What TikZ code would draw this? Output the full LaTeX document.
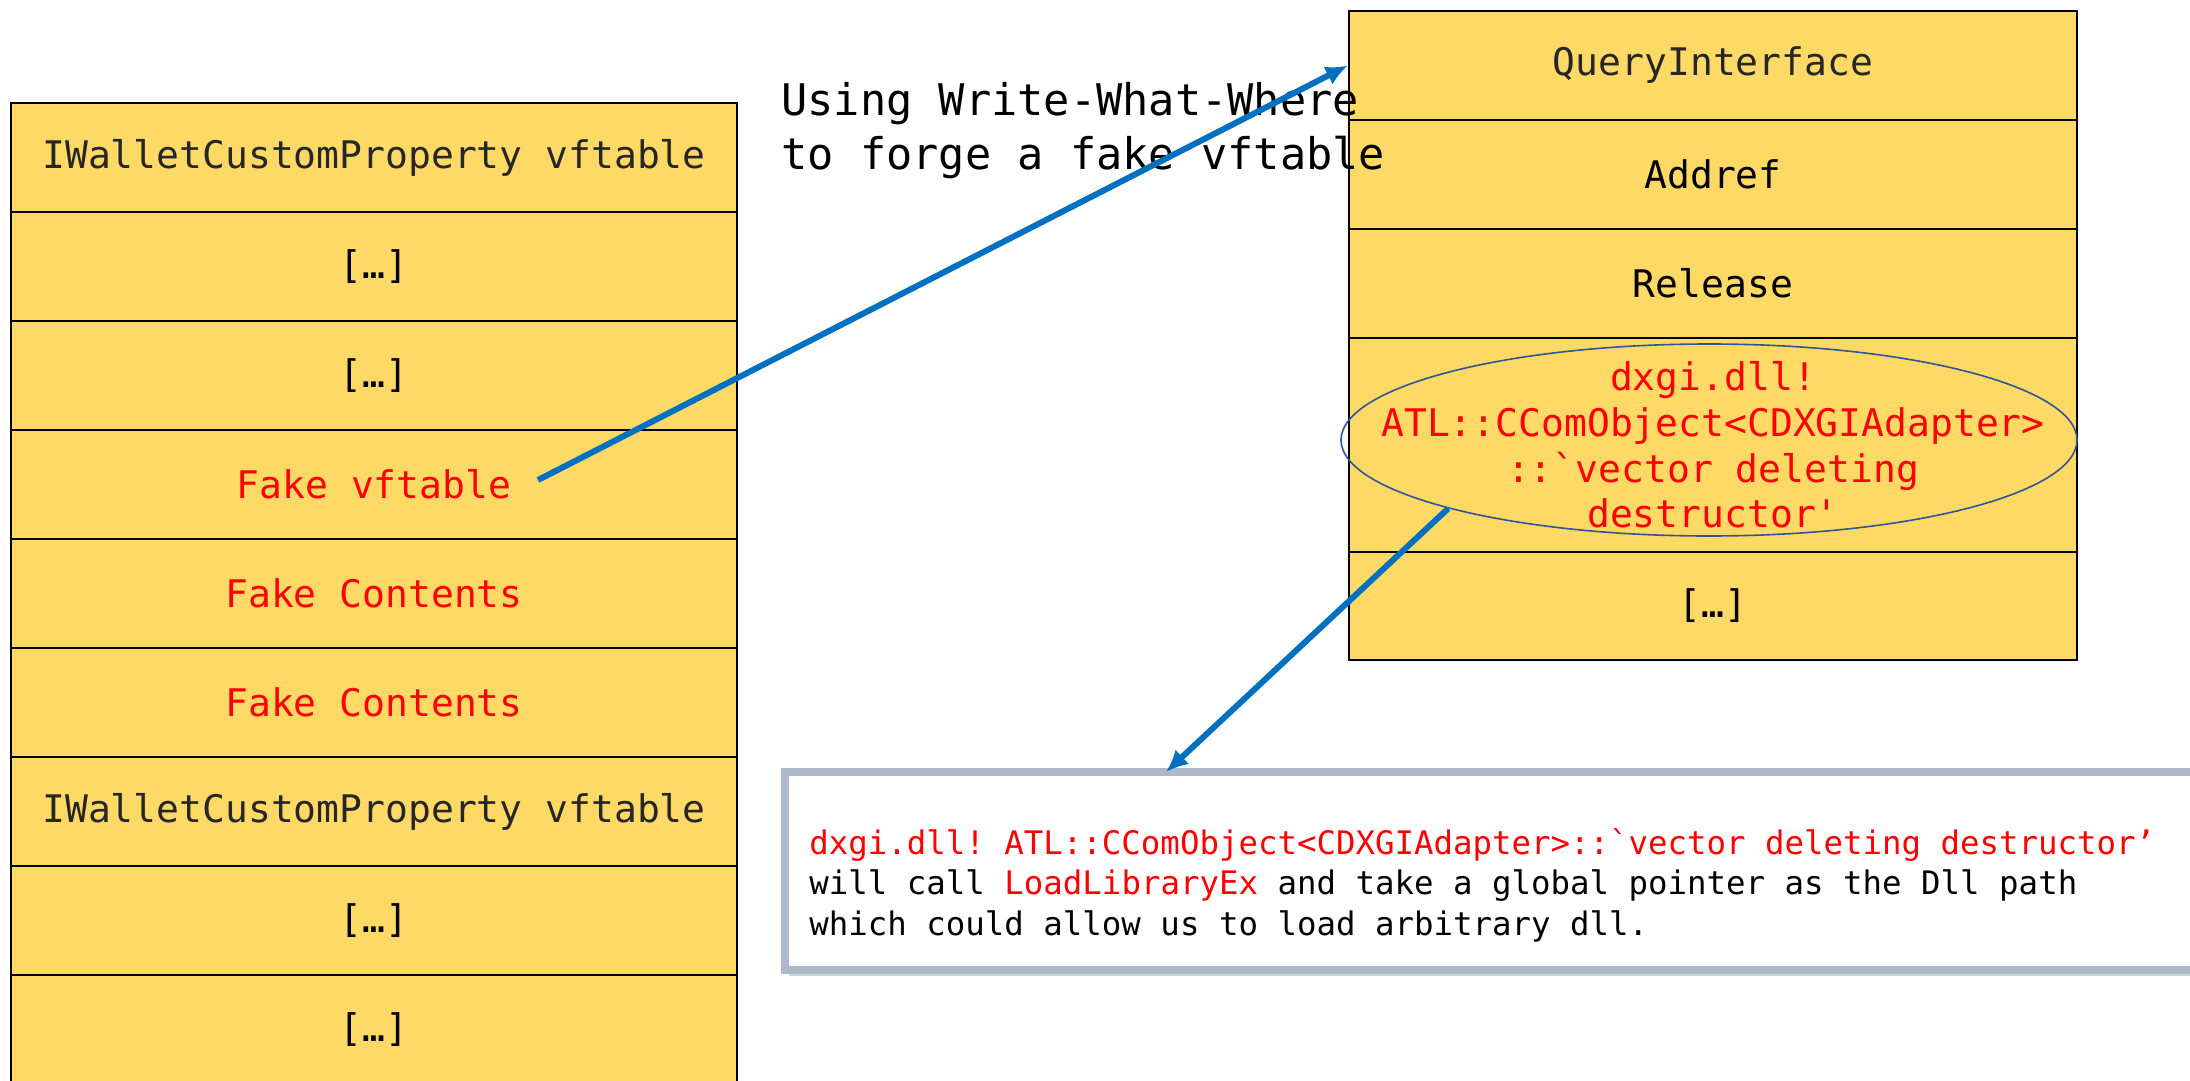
\documentclass[tikz,border=0pt]{standalone}
\usepackage{fontspec}
\setmonofont{DejaVu Sans Mono}
\usepackage{xcolor}
\usetikzlibrary{shapes.geometric,arrows.meta,shadows}

\definecolor{cellfill}{HTML}{FFD966}
\definecolor{ptrblue}{HTML}{0070C0}
\definecolor{ringblue}{HTML}{2F5597}
\definecolor{notegray}{HTML}{ADB9CA}
\definecolor{darktext}{HTML}{262626}

\tikzset{
  cell/.style={draw=black, line width=1.2pt, fill=cellfill, minimum width=363pt, minimum height=54.5pt,
    inner sep=0pt, align=center, font=\ttfamily\fontsize{19}{22.8}\selectfont},
  rcell/.style={cell, minimum width=364pt},
  fake/.style={text=red},
  ptr/.style={draw=ptrblue, line width=3pt, -{Latex[length=11pt,width=10pt]}},
}

\begin{document}
\begin{tikzpicture}[x=0.5pt,y=-0.5pt]
\useasboundingbox (0,0) rectangle (2190,1081);

% sprayed object
\node[cell,text=darktext] (l1) at (374,157.5) {IWalletCustomProperty vftable};
\node[cell] (l2) at (374,266.5) {[…]};
\node[cell] (l3) at (374,375.5) {[…]};
\node[cell,fake] (l4) at (374,484.5) {Fake vftable};
\node[cell,fake] (l5) at (374,593.5) {Fake Contents};
\node[cell,fake] (l6) at (374,702.5) {Fake Contents};
\node[cell,text=darktext] (l7) at (374,811.5) {IWalletCustomProperty vftable};
\node[cell] (l8) at (374,920.5) {[…]};
\node[cell] (l9) at (374,1029.5) {[…]};

% forged vftable
\node[rcell,text=darktext] (r1) at (1713,65.5) {QueryInterface};
\node[rcell] (r2) at (1713,174.5) {Addref};
\node[rcell] (r3) at (1713,283.5) {Release};
\node[rcell,fake,minimum height=107pt] (r4) at (1713,445)
  {dxgi.dll!\\ATL::CComObject<CDXGIAdapter>\\::`vector deleting\\destructor'};
\node[rcell,minimum height=54pt] (r5) at (1713,606) {[…]};

\node[ellipse, draw=ringblue, line width=0.8pt, minimum width=368pt, minimum height=96pt,
  inner sep=0pt] (dtor) at (1709,440) {};

\node[anchor=north west, align=left, inner sep=0pt, font=\ttfamily\fontsize{21.8}{27}\selectfont]
  (howto) at (781,82) {Using Write-What-Where\\to forge a fake vftable};

% note
\node[draw=notegray, line width=4pt, fill=white, minimum width=722.5pt, minimum height=99pt,
  drop shadow={opacity=0.35, shadow xshift=2pt, shadow yshift=-3pt}] (note) at (1507.5,871) {};
\node[anchor=west, align=left, inner sep=0pt, font=\ttfamily\fontsize{16.2}{20.25}\selectfont]
  (notetext) at (809,885)
  {\textcolor{red}{dxgi.dll! ATL::CComObject<CDXGIAdapter>::`vector deleting destructor’}\\
   will call \textcolor{red}{LoadLibraryEx} and take a global pointer as the Dll path\\
   which could allow us to load arbitrary dll.};

\coordinate (fakeptr) at (538,480);
\coordinate (noteptr) at (1166,772);

\draw[ptr] (fakeptr) -- (r1.west);
\draw[ptr] (dtor.south west) -- (noteptr);

\end{tikzpicture}
\end{document}
